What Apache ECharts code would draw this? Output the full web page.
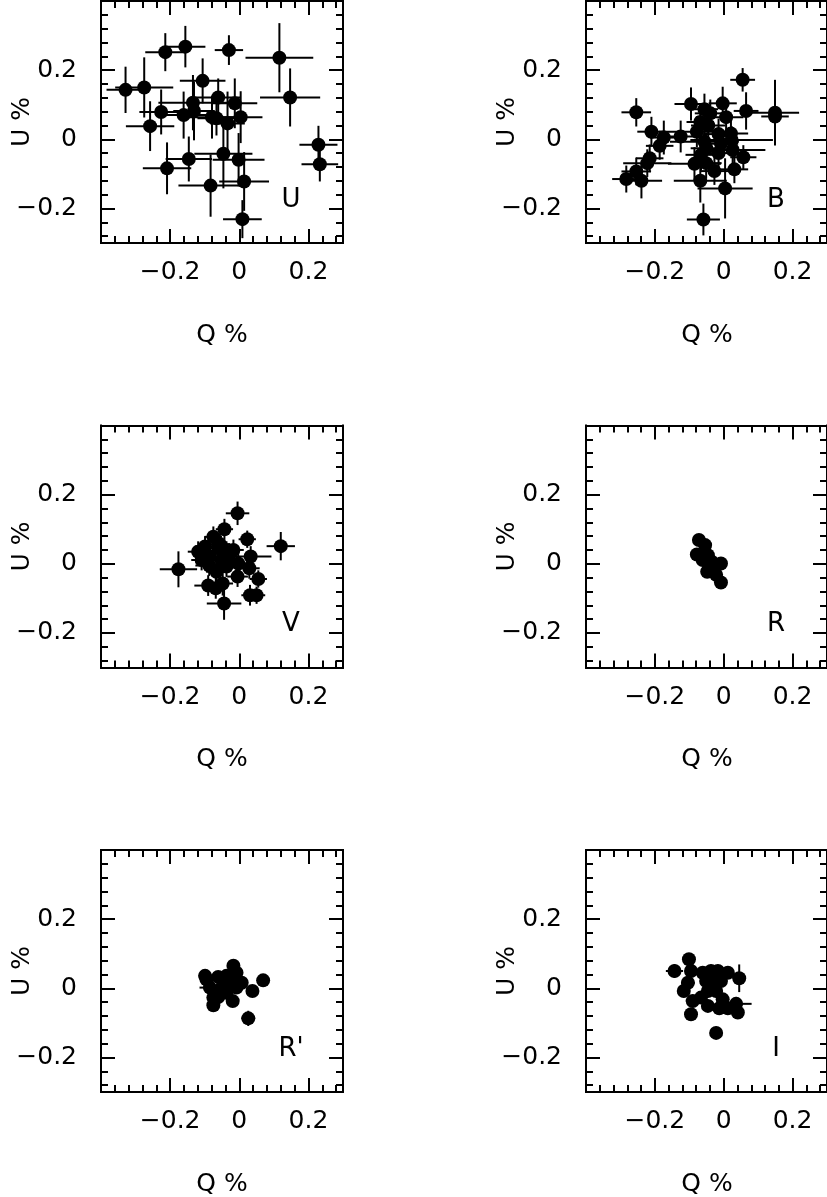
<!DOCTYPE html>
<html><head><meta charset="utf-8">
<script src="https://cdn.jsdelivr.net/npm/echarts@6/dist/echarts.min.js"></script>
<style>html,body{margin:0;padding:0;background:#fff}#c{width:827px;height:1197px}</style>
</head><body><div id="c"></div>
<script>
// ---- tick values / labels ----
const majorTicks = [-0.2, 0, 0.2];
const minorTicksX = [-0.36,-0.32,-0.28,-0.24,-0.16,-0.12,-0.08,-0.04,0.04,0.08,0.12,0.16,0.24,0.28];
const minorTicksY = [-0.28,-0.24,-0.16,-0.12,-0.08,-0.04,0.04,0.08,0.12,0.16,0.24,0.28,0.32,0.36];
const xRange = [-0.4, 0.3];
const yRange = [-0.3, 0.4];
const xTitle = 'Q %';
const yTitle = 'U %';
const bandNames = ['U', 'B', 'V', 'R', "R'", 'I'];

// ---- data: [Q, U, errQ, errU] (percent) ----
const pointsU = [
  [-0.329,0.143,0.055,0.067],[-0.275,0.150,0.084,0.087],[-0.214,0.252,0.058,0.055],[-0.156,0.268,0.058,0.060],
  [-0.030,0.258,0.041,0.043],[0.116,0.236,0.098,0.100],[0.147,0.121,0.087,0.084],[-0.106,0.169,0.066,0.065],
  [-0.061,0.121,0.065,0.055],[-0.134,0.106,0.100,0.080],[-0.013,0.104,0.065,0.072],[-0.226,0.079,0.063,0.065],
  [-0.161,0.070,0.070,0.068],[-0.131,0.082,0.060,0.085],[-0.079,0.064,0.068,0.062],[-0.066,0.061,0.055,0.050],
  [-0.034,0.046,0.050,0.092],[0.004,0.064,0.063,0.075],[-0.258,0.038,0.070,0.072],[0.229,-0.016,0.055,0.055],
  [0.233,-0.072,0.053,0.050],[-0.046,-0.042,0.084,0.100],[-0.146,-0.057,0.067,0.065],[-0.002,-0.059,0.075,0.077],
  [-0.209,-0.084,0.070,0.075],[-0.083,-0.134,0.093,0.090],[0.014,-0.122,0.072,0.085],[0.009,-0.231,0.056,0.055]
];
const pointsB = [
  [0.055,0.172,0.036,0.034],[-0.254,0.078,0.043,0.041],[-0.095,0.102,0.048,0.048],[-0.056,0.087,0.040,0.045],
  [-0.039,0.075,0.045,0.040],[-0.003,0.104,0.041,0.048],[0.065,0.082,0.036,0.054],[0.149,0.077,0.070,0.095],
  [0.149,0.066,0.040,0.040],[0.007,0.064,0.050,0.045],[-0.068,0.050,0.040,0.045],[-0.210,0.022,0.041,0.043],
  [-0.174,0.005,0.040,0.049],[-0.186,-0.019,0.040,0.040],[-0.125,0.008,0.046,0.046],[-0.078,0.022,0.110,0.045],
  [-0.015,0.015,0.045,0.045],[0.021,0.017,0.050,0.040],[-0.056,-0.007,0.100,0.045],[-0.051,-0.026,0.045,0.045],
  [-0.008,-0.013,0.050,0.040],[0.026,-0.031,0.095,0.040],[0.057,-0.052,0.038,0.035],[-0.015,-0.040,0.040,0.040],
  [-0.066,-0.045,0.045,0.045],[-0.215,-0.055,0.040,0.040],[-0.222,-0.069,0.070,0.040],[-0.085,-0.071,0.077,0.048],
  [-0.051,-0.069,0.045,0.045],[-0.027,-0.092,0.040,0.040],[0.031,-0.087,0.040,0.040],[-0.254,-0.093,0.043,0.040],
  [-0.283,-0.115,0.041,0.039],[-0.239,-0.120,0.060,0.051],[-0.068,-0.120,0.077,0.063],[0.004,-0.142,0.080,0.087],
  [-0.059,-0.232,0.048,0.046],[0.023,-0.002,0.120,0.040],[-0.045,0.040,0.050,0.045]
];
const pointsV = [
  [-0.176,-0.016,0.054,0.052],[-0.005,0.146,0.034,0.034],[0.120,0.051,0.041,0.041],[-0.043,0.100,0.025,0.030],
  [0.023,0.071,0.025,0.025],[-0.075,0.078,0.025,0.030],[-0.119,0.035,0.030,0.030],[-0.099,0.050,0.030,0.030],
  [-0.061,0.045,0.025,0.030],[-0.037,0.035,0.030,0.030],[-0.017,0.040,0.030,0.030],[-0.085,0.021,0.030,0.030],
  [-0.051,0.011,0.030,0.030],[-0.027,0.006,0.030,0.030],[0.033,0.021,0.060,0.030],[-0.087,-0.005,0.040,0.030],
  [-0.066,-0.023,0.030,0.030],[-0.037,-0.008,0.030,0.030],[-0.003,0.001,0.030,0.030],[0.029,-0.013,0.030,0.030],
  [-0.005,-0.037,0.030,0.030],[0.055,-0.044,0.025,0.025],[-0.090,-0.063,0.040,0.030],[-0.068,-0.071,0.030,0.030],
  [-0.048,-0.057,0.030,0.035],[0.031,-0.091,0.025,0.030],[0.050,-0.091,0.025,0.025],[-0.044,-0.115,0.050,0.047],
  [-0.056,0.057,0.030,0.030],[-0.109,0.011,0.030,0.030]
];
const pointsR = [
  [-0.072,0.069,0.012,0.012],[-0.054,0.054,0.012,0.012],[-0.078,0.027,0.015,0.012],[-0.046,0.025,0.012,0.012],
  [-0.035,0.006,0.012,0.015],[-0.008,0.001,0.012,0.015],[-0.048,-0.023,0.018,0.015],[-0.022,-0.032,0.012,0.012],
  [-0.008,-0.054,0.012,0.012],[-0.061,0.011,0.012,0.012],[-0.041,-0.008,0.012,0.012],[-0.027,-0.016,0.012,0.012]
];
const pointsRp = [
  [-0.017,0.065,0.015,0.015],[0.069,0.023,0.015,0.015],[0.038,-0.008,0.015,0.015],[0.026,-0.087,0.020,0.022],
  [-0.019,-0.037,0.015,0.015],[-0.075,-0.049,0.015,0.015],[-0.095,0.026,0.015,0.015],[-0.099,0.036,0.015,0.018],
  [-0.061,0.033,0.015,0.015],[-0.037,0.036,0.015,0.015],[-0.008,0.045,0.015,0.015],[-0.085,0.002,0.030,0.015],
  [-0.051,0.002,0.015,0.015],[-0.027,0.012,0.015,0.015],[0.007,0.016,0.015,0.015],[-0.061,-0.025,0.015,0.015],
  [-0.037,-0.013,0.015,0.015],[-0.008,0.002,0.015,0.015],[-0.075,-0.027,0.015,0.015],[-0.022,0.026,0.015,0.015]
];
const pointsI = [
  [-0.101,0.084,0.018,0.018],[-0.143,0.050,0.025,0.020],[-0.095,0.050,0.018,0.018],[-0.104,0.016,0.020,0.018],
  [-0.116,-0.008,0.018,0.018],[-0.090,-0.037,0.020,0.018],[-0.095,-0.075,0.015,0.015],[-0.022,-0.129,0.018,0.018],
  [0.041,-0.070,0.018,0.018],[0.036,-0.045,0.045,0.020],[0.045,0.029,0.018,0.040],[0.012,0.045,0.018,0.018],
  [-0.017,0.050,0.018,0.018],[-0.061,0.045,0.018,0.018],[-0.051,0.021,0.018,0.018],[-0.027,0.021,0.018,0.018],
  [-0.008,0.021,0.018,0.018],[-0.046,-0.008,0.018,0.018],[-0.022,-0.008,0.018,0.018],[-0.003,-0.032,0.018,0.018],
  [-0.046,-0.051,0.018,0.018],[-0.013,-0.058,0.018,0.018],[0.012,-0.058,0.018,0.018],[-0.066,-0.027,0.018,0.018],
  [-0.037,0.050,0.018,0.018]
];
const panelData = [pointsU, pointsB, pointsV, pointsR, pointsRp, pointsI];

// ---- layout ----
const PW = 242, PH = 242;
const panelPos = [[101,1],[586,1],[101,425.5],[586,425.5],[101,850],[586,850]];
const FONT = 'DejaVu Sans';
const INK = '#000';

function fmt(v){ if (Math.abs(v) < 1e-9) return '0'; return v < 0 ? '\u2212' + Math.abs(v) : String(v); }

const grids = [], xAxes = [], yAxes = [], series = [], graphics = [];
panelPos.forEach((p, i) => {
  grids.push({left: p[0], top: p[1], width: PW, height: PH, show: false, containLabel: false});
  const base = {type:'value', gridIndex:i, splitLine:{show:false}, axisLine:{show:true, onZero:false, lineStyle:{color:INK, width:2}}};
  const mk = (pos, rng, ticks, len, labels) => Object.assign({}, base, {
    position: pos, min: rng[0], max: rng[1],
    axisTick: {show:true, inside:true, length:len, customValues: ticks, lineStyle:{color:INK, width:2}},
    axisLabel: labels ? {show:true, customValues: majorTicks, formatter: fmt, color:INK, fontFamily:FONT, fontSize:25, margin: pos==='bottom'?17:24} : {show:false}
  });
  xAxes.push(mk('bottom', xRange, majorTicks, 14, true));
  xAxes.push(mk('top', xRange, majorTicks, 14, false));
  xAxes.push(mk('bottom', xRange, minorTicksX, 7, false));
  xAxes.push(mk('top', xRange, minorTicksX, 7, false));
  yAxes.push(mk('left', yRange, majorTicks, 14, true));
  yAxes.push(mk('right', yRange, majorTicks, 14, false));
  yAxes.push(mk('left', yRange, minorTicksY, 7, false));
  yAxes.push(mk('right', yRange, minorTicksY, 7, false));

  series.push({
    type:'custom', xAxisIndex: 4*i, yAxisIndex: 4*i, data: panelData[i], encode:{x:0, y:1}, silent:true, clip:false,
    renderItem: function(params, api){
      const q = api.value(0), u = api.value(1), dq = api.value(2), du = api.value(3);
      const a = api.coord([q-dq, u]), b = api.coord([q+dq, u]);
      const c = api.coord([q, u-du]), d = api.coord([q, u+du]);
      const st = {stroke: INK, lineWidth: 2};
      return {type:'group', children:[
        {type:'line', shape:{x1:a[0], y1:a[1], x2:b[0], y2:b[1]}, style: st},
        {type:'line', shape:{x1:c[0], y1:c[1], x2:d[0], y2:d[1]}, style: st}
      ]};
    }
  });
  series.push({
    type:'scatter', xAxisIndex: 4*i, yAxisIndex: 4*i, data: panelData[i].map(r => [r[0], r[1]]),
    symbol:'circle', symbolSize: 14, itemStyle:{color: INK, opacity: 1}, silent:true
  });

  graphics.push({type:'text', x: p[0]+190, y: p[1]+199, style:{text: bandNames[i], fill: INK, font: '26px "' + FONT + '"', textAlign:'center', textVerticalAlign:'middle'}});
  graphics.push({type:'text', x: p[0]+121, y: p[1]+334, style:{text: xTitle, fill: INK, font: '25px "' + FONT + '"', textAlign:'center', textVerticalAlign:'middle'}});
  graphics.push({type:'text', x: p[0]-79, y: p[1]+121, rotation: Math.PI/2, style:{text: yTitle, fill: INK, font: '25px "' + FONT + '"', textAlign:'center', textVerticalAlign:'middle'}});
});

const chart = echarts.init(document.getElementById('c'), null, {renderer:'canvas'});
chart.setOption({
  animation: false,
  backgroundColor: '#fff',
  grid: grids, xAxis: xAxes, yAxis: yAxes, series: series, graphic: graphics
});
</script>
</body></html>
